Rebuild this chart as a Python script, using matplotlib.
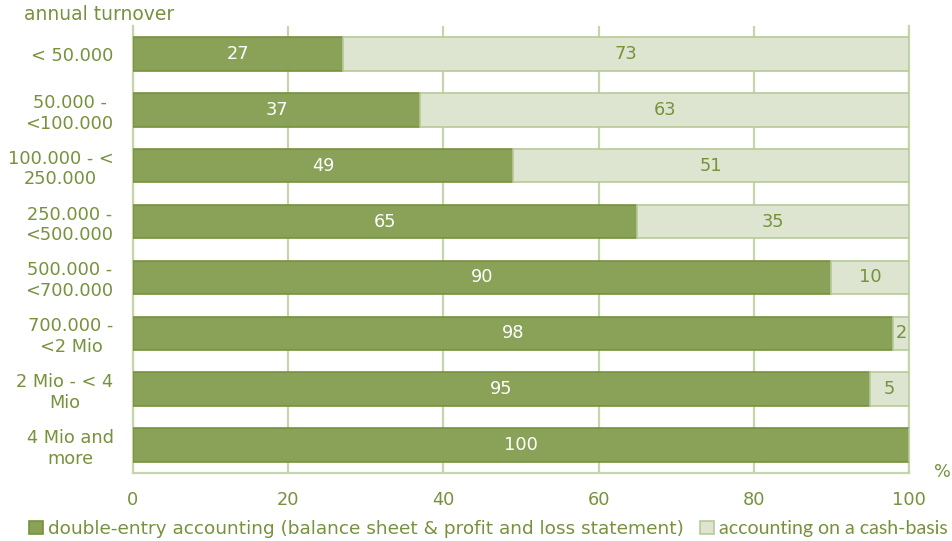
import matplotlib
matplotlib.use("Agg")
import matplotlib.pyplot as plt
import numpy as np

categories = ["< 50.000", "50.000 -\n<100.000", "100.000 - <\n250.000",
              "250.000 -\n<500.000", "500.000 -\n<700.000", "700.000 -\n<2 Mio",
              "2 Mio - < 4\nMio", "4 Mio and\nmore"]
double_entry = [27, 37, 49, 65, 90, 98, 95, 100]
cash_basis = [73, 63, 51, 35, 10, 2, 5, 0]
x_ticks = [0, 20, 40, 60, 80, 100]
series_names = ["double-entry accounting (balance sheet & profit and loss statement)",
                "accounting on a cash-basis"]

dark = "#8aa258"
dark_edge = "#76923c"
light = "#dde4d0"
light_edge = "#b8ca9a"
text_green = "#76923c"
grid_green = "#c6d5ab"

plt.rcParams["font.family"] = ["DejaVu Sans"]
fs = 12.8

fig = plt.figure(figsize=(9.53, 5.41), dpi=100)
ax = fig.add_axes([133 / 953, 1 - 473 / 541, (909 - 133) / 953, (473 - 26) / 541])

y = np.arange(len(categories))
h = 0.6
b1 = ax.barh(y, double_entry, height=h, color=dark, edgecolor=dark_edge,
             linewidth=1.2, zorder=3, label=series_names[0])
b2 = ax.barh(y, cash_basis, left=double_entry, height=h, color=light,
             edgecolor=light_edge, linewidth=1.2, zorder=3, label=series_names[1])

for yi, d, c in zip(y, double_entry, cash_basis):
    if d > 0:
        ax.text(d / 2, yi, f"{d}", ha="center", va="center", color="white",
                fontsize=fs, zorder=4)
    if c > 0:
        ax.text(d + c / 2, yi, f"{c}", ha="center", va="center", color=text_green,
                fontsize=fs, zorder=4)

ax.set_xlim(0, 100)
ax.set_ylim(len(categories) - 0.5, -0.5)
ax.set_xticks(x_ticks)
ax.set_xticklabels([str(v) for v in x_ticks])
ax.set_yticks(y)
ax.set_yticklabels(categories, multialignment="center")
ax.tick_params(axis="both", length=0, colors=text_green, labelsize=fs)
ax.tick_params(axis="y", pad=14)
ax.tick_params(axis="x", pad=13)

ax.grid(axis="x", color=grid_green, linewidth=1.6, zorder=0)
ax.spines["top"].set_visible(False)
for side in ["left", "bottom", "right"]:
    ax.spines[side].set_color(grid_green)
    ax.spines[side].set_linewidth(1.6)

fig.text(24 / 953, 1 - 15 / 541, "annual turnover", color=text_green,
         fontsize=13.5, ha="left", va="center")
fig.text(942 / 953, 1 - 472 / 541, "%", color=text_green, fontsize=fs,
         ha="center", va="center")

leg = fig.legend(handles=[b1, b2], loc="center left",
                 bbox_to_anchor=(29 / 953, 1 - 529 / 541), ncol=2, frameon=False,
                 handlelength=0.75, handleheight=0.65, handletextpad=0.3,
                 columnspacing=0.85, borderaxespad=0, borderpad=0, fontsize=13.3)
for t in leg.get_texts():
    t.set_color(text_green)
leg.get_texts()[1].set_fontfamily(["Lato", "DejaVu Sans"])
leg.get_texts()[1].set_fontsize(14)

fig.savefig("out.png", dpi=100)
